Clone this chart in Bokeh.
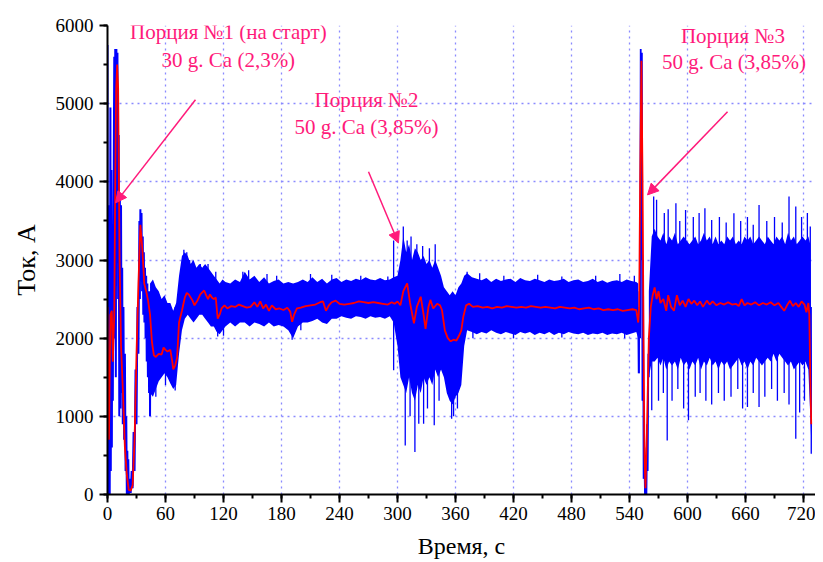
from bokeh.plotting import figure
from bokeh.models import Label, Arrow, NormalHead, FixedTicker, Range1d
from bokeh.embed import file_html
from bokeh.resources import INLINE

# ---------------- data ----------------
# early high-amplitude burst of the raw current (s, A)
burst1_t = [0, 0.3, 0.8, 1.2, 1.8, 2.3, 3, 3.4, 4, 4.5, 5, 5.5, 6, 7, 7.5, 8, 8.6, 9.2, 9.8, 10.3,
            11, 11.6, 12.2, 12.8, 13.4, 14, 14.6, 15.2, 15.8, 16.5, 17.2, 18, 18.7, 19.4, 20, 20.5,
            21, 21.5, 22, 23, 24, 25, 26, 27, 28, 29, 30, 31, 32, 33, 33.5, 34, 34.6, 35.2, 35.8,
            36.5, 37, 37.6, 38.2, 38.8, 39.4, 40, 40.6, 41.2, 41.8, 42.4, 43, 43.6, 44, 44.5]
burst1_v = [5750, 0, 3700, 100, 3600, 0, 4950, 300, 4150, 600, 3200, 1200, 3000, 5600, 2000, 5700,
            1500, 5700, 3000, 5650, 2500, 4600, 1000, 3800, 1100, 3700, 1300, 2900, 900, 2400, 700,
            1800, 300, 1000, 0, 560, 50, 450, 0, 200, 20, 300, 80, 800, 300, 1600, 900, 2400, 1800,
            3500, 2500, 3650, 2900, 3600, 2600, 3300, 2300, 3100, 2200, 2900, 2000, 2800, 1700,
            2700, 1500, 2600, 1300, 2500, 1000, 2600]

# burst of the raw current around the third portion
burst2_t = [549, 549.5, 550.3, 551, 551.6, 552.2, 552.8, 553.4, 554, 554.6, 555.3, 556, 556.8,
            557.5, 558.2, 558.8, 559.5, 560]
burst2_v = [2300, 1550, 2600, 2000, 5700, 3000, 5650, 1200, 3000, 200, 600, 0, 100, 0, 900, 300,
            1800, 1500]

# envelope of the noisy raw current (s, upper A, lower A)
band_t = [44, 47, 50, 53, 56, 59, 62, 65, 68, 71, 74, 77, 80, 83, 86, 89, 92, 95, 98, 101, 104,
          107, 110, 113, 116, 119, 122, 127, 132, 137, 142, 147, 152, 157, 162, 167, 172, 177,
          182, 187, 192, 197, 202, 207, 212, 217, 222, 227, 232, 237, 242, 247, 252, 257, 262,
          267, 272, 277, 282, 287, 292, 296, 300, 303, 306, 309, 312, 315, 318, 321, 324, 327,
          330, 333, 336, 339, 342, 345, 348, 351, 354, 357, 360, 363, 366, 369, 372, 377, 382,
          387, 392, 397, 402, 407, 412, 417, 422, 427, 432, 437, 442, 447, 452, 457, 462, 467,
          472, 477, 482, 487, 492, 497, 502, 507, 512, 517, 522, 527, 532, 537, 542, 547, 549,
          560, 563, 566, 569, 572, 575, 578, 581, 584, 587, 590, 593, 596, 599, 602, 605, 608,
          611, 614, 617, 620, 623, 626, 629, 632, 635, 638, 641, 644, 647, 650, 653, 656, 659,
          662, 665, 668, 671, 674, 677, 680, 683, 686, 689, 692, 695, 698, 701, 704, 707, 710,
          713, 716, 719, 722, 725, 727, 728.5]
band_hi = [2700, 2750, 2650, 2600, 2500, 2550, 2450, 2450, 2350, 2450, 2800, 3050, 3100, 3050,
           2950, 3000, 2900, 2950, 2900, 2950, 2900, 2850, 2800, 2750, 2700, 2750, 2720, 2700,
           2750, 2720, 2850, 2750, 2800, 2720, 2780, 2700, 2730, 2750, 2700, 2720, 2700, 2720,
           2750, 2720, 2780, 2720, 2760, 2700, 2750, 2770, 2720, 2750, 2730, 2760, 2740, 2780,
           2750, 2740, 2770, 2740, 2750, 2780, 2800, 3000, 3300, 3100, 3200, 3000, 3150, 3100,
           3000, 3050, 2950, 3000, 2900, 3000, 2900, 2800, 2650, 2600, 2550, 2600, 2550, 2650,
           2700, 2800, 2830, 2780, 2760, 2740, 2770, 2720, 2760, 2730, 2750, 2760, 2720, 2770,
           2740, 2730, 2760, 2740, 2720, 2750, 2730, 2740, 2760, 2720, 2740, 2750, 2720, 2730,
           2760, 2720, 2740, 2710, 2730, 2740, 2720, 2750, 2730, 2720, 2700,
           2600, 3300, 3400, 3300, 3250, 3350, 3200, 3300, 3250, 3350, 3200, 3250, 3300, 3250,
           3200, 3250, 3300, 3200, 3250, 3350, 3250, 3300, 3200, 3300, 3200, 3250, 3200, 3300,
           3250, 3300, 3200, 3250, 3200, 3300, 3250, 3300, 3200, 3250, 3300, 3250, 3200, 3300,
           3250, 3200, 3300, 3250, 3300, 3200, 3350, 3250, 3300, 3200, 3250, 3300, 3250, 3300,
           3200, 1500]
band_lo = [1300, 1250, 1350, 1450, 1500, 1550, 1500, 1420, 1350, 1400, 1800, 2100, 2250, 2300,
           2250, 2200, 2250, 2300, 2300, 2250, 2200, 2150, 2150, 2080, 2050, 2100, 2150, 2200,
           2150, 2200, 2200, 2150, 2200, 2180, 2150, 2200, 2150, 2170, 2150, 2100, 2000, 2150,
           2200, 2200, 2220, 2250, 2200, 2180, 2250, 2250, 2280, 2260, 2250, 2280, 2270, 2250,
           2280, 2260, 2270, 2250, 2280, 2200, 1900, 1500, 1400, 1300, 1500, 1300, 1200, 1400,
           1300, 1500, 1400, 1500, 1400, 1600, 1500, 1600, 1500, 1300, 1200, 1150, 1250, 1300,
           1400, 1900, 2100, 2080, 2050, 2080, 2060, 2100, 2070, 2050, 2080, 2060, 2040, 2080,
           2060, 2080, 2040, 2070, 2050, 2080, 2040, 2070, 2050, 2080, 2060, 2050, 2070, 2040,
           2060, 2050, 2070, 2040, 2060, 2050, 2070, 2040, 2060, 2080, 2000,
           1500, 1700, 1700, 1750, 1650, 1750, 1600, 1700, 1650, 1700, 1600, 1750, 1650, 1700,
           1600, 1700, 1650, 1750, 1600, 1700, 1650, 1750, 1650, 1700, 1600, 1700, 1650, 1700,
           1600, 1650, 1700, 1750, 1650, 1700, 1600, 1700, 1650, 1750, 1700, 1650, 1700, 1750,
           1700, 1800, 1700, 1800, 1750, 1700, 1650, 1700, 1600, 1650, 1700, 1650, 1700, 1600,
           1000, 500]

# isolated spikes of the raw current (s, A)
spike_t = [79, 82, 85, 88, 96, 100, 104, 112, 140, 146, 165, 175, 210, 232, 262, 290, 296, 306,
           310, 314, 320, 326, 333, 339, 372, 385, 410, 445, 470, 505, 530, 545, 565, 568, 576,
           580, 588, 592, 598, 606, 612, 618, 625, 633, 640, 648, 655, 662, 668, 674, 682, 690,
           698, 705, 712, 718, 724, 727,
           50, 60, 70, 114, 120, 191, 200, 296, 308, 313, 318, 322, 327, 331, 338, 343, 356, 358,
           362, 378, 420, 470, 535, 550, 563, 570, 575, 579, 584, 590, 596, 601, 608, 613, 619,
           625, 632, 638, 645, 652, 657, 662, 668, 674, 680, 687, 693, 700, 705, 712, 716, 721,
           728]
spike_v = [3130, 3100, 3000, 2980, 2950, 2920, 2950, 2850, 2850, 2870, 2820, 2800, 2820, 2810,
           2800, 2790, 3250, 3430, 3250, 3300, 3200, 3180, 3150, 3200, 2850, 2830, 2800, 2810,
           2790, 2800, 2820, 2800, 3811, 3770, 3600, 3650, 3726, 3500, 3640, 3550, 3600, 3662,
           3512, 3550, 3480, 3598, 3500, 3550, 3450, 3705, 3500, 3550, 3480, 3811, 3683, 3550,
           3600, 3427,
           1250, 1400, 1330, 2020, 2030, 1980, 2100, 1590, 628, 1000, 543, 906, 906, 1100, 885,
           1200, 970, 1000, 1100, 2000, 2000, 2010, 2000, 1550, 1077, 1200, 1300, 692, 1200,
           1350, 1100, 949, 1250, 1300, 1200, 1150, 1300, 1200, 1250, 1350, 1100, 1120, 1300,
           1120, 1250, 1350, 1200, 1300, 1150, 714, 1050, 1200, 521]

# smoothed current (s, A)
smooth_t = [0, 1.5, 3, 4.5, 5.5, 7, 8, 9, 10, 11, 12.5, 14, 16, 18, 20, 22, 24, 26, 28, 30, 32,
            34, 36, 38, 40, 42, 44, 46, 48, 50, 53, 56, 58, 60, 62, 65, 67, 68, 70, 72, 74, 77,
            80, 82, 84, 86, 88, 90, 93, 96, 100, 102, 104, 106, 108, 110, 112, 114, 116, 118,
            121, 124, 128, 132, 136, 140, 144, 148, 152, 155, 158, 161, 164, 167, 170, 174, 178,
            182, 186, 189, 191, 193, 196, 200, 205, 210, 215, 220, 223, 226, 229, 232, 236, 240,
            245, 250, 255, 260, 265, 270, 275, 280, 285, 290, 294, 297, 300, 303, 306, 310, 313,
            317, 320, 324, 327, 329, 332, 334, 337, 341, 344, 346, 349, 352, 355, 358, 361, 364,
            366, 368, 371, 374, 378, 383, 388, 393, 398, 403, 408, 413, 418, 423, 428, 433, 438,
            443, 448, 453, 458, 463, 468, 473, 478, 483, 488, 493, 498, 503, 508, 513, 518, 523,
            528, 533, 538, 543, 547, 549, 550, 551, 552.3, 553.5, 554.5, 555.5, 556.5, 558, 560,
            562, 564, 566, 568, 570, 572, 575, 578, 580, 583, 586, 589, 592, 595, 598, 601, 604,
            607, 610, 613, 616, 620, 623, 626, 630, 634, 638, 642, 646, 650, 653, 656, 659, 662,
            666, 670, 674, 678, 682, 686, 690, 694, 697, 700, 703, 706, 709, 712, 715, 718, 721,
            723, 725, 726, 727, 728]
smooth_v = [2400, 700, 2300, 2350, 1700, 2300, 4000, 5200, 5500, 5200, 3000, 1900, 1300, 600,
            250, 60, 50, 120, 700, 1800, 2700, 3450, 3150, 2700, 2600, 2480, 2300, 1950, 1780,
            1760, 1800, 1790, 1880, 1850, 1830, 1850, 1700, 1600, 1650, 1750, 2200, 2350, 2520,
            2580, 2560, 2520, 2480, 2420, 2480, 2560, 2610, 2550, 2500, 2560, 2520, 2500, 2520,
            2250, 2300, 2380, 2420, 2380, 2410, 2400, 2430, 2410, 2390, 2400, 2460, 2400, 2470,
            2380, 2430, 2350, 2420, 2370, 2380, 2360, 2390, 2340, 2210, 2300, 2380, 2390, 2410,
            2420, 2430, 2460, 2470, 2350, 2420, 2460, 2480, 2440, 2430, 2440, 2450, 2470, 2460,
            2450, 2460, 2450, 2440, 2430, 2460, 2440, 2470, 2420, 2600, 2700, 2450, 2190, 2400,
            2530, 2300, 2120, 2400, 2490, 2380, 2440, 2420, 2360, 2100, 2000, 1960, 1980, 1970,
            2040, 2100, 2270, 2420, 2440, 2400, 2410, 2390, 2400, 2380, 2400, 2390, 2410, 2400,
            2390, 2400, 2390, 2410, 2400, 2390, 2400, 2390, 2380, 2400, 2390, 2380, 2390, 2370,
            2380, 2390, 2370, 2380, 2360, 2370, 2360, 2370, 2350, 2360, 2370, 2360, 2200, 2400,
            4000, 5550, 4000, 2000, 500, 80, 800, 2000, 2400, 2550, 2650, 2500, 2600, 2450, 2500,
            2350, 2550, 2400, 2350, 2550, 2420, 2480, 2400, 2500, 2440, 2480, 2420, 2470, 2400,
            2480, 2430, 2470, 2420, 2450, 2430, 2460, 2430, 2440, 2410, 2500, 2420, 2450, 2430,
            2460, 2420, 2450, 2430, 2460, 2420, 2450, 2400, 2350, 2420, 2480, 2410, 2450, 2400,
            2470, 2430, 2330, 2450, 2300, 1500, 900]

x_ticks = list(range(0, 721, 60))
y_ticks = list(range(0, 6001, 1000))

# ---------------- styling ----------------
BLUE = "#0000ff"
RED = "#ff0000"
PINK = "#ff1a7a"
FONT = "'Liberation Serif', 'Times New Roman', serif"
SPIKE_BASE = 2400
X_END = 732.4

p = figure(width=815, height=562, output_backend="svg", toolbar_location=None,
           x_range=Range1d(0, X_END), y_range=Range1d(0, 6000),
           min_border_left=107, min_border_right=0, min_border_top=25, min_border_bottom=68,
           x_axis_label="Время, с", y_axis_label="Ток, А")
p.outline_line_color = None
p.background_fill_color = "white"

# raw current
cut = band_t.index(560)
p.varea(x=band_t[:cut], y1=band_lo[:cut], y2=band_hi[:cut], fill_color=BLUE)
p.varea(x=band_t[cut:], y1=band_lo[cut:], y2=band_hi[cut:], fill_color=BLUE)
p.segment(x0=spike_t, y0=[SPIKE_BASE] * len(spike_t), x1=spike_t, y1=spike_v,
          line_color=BLUE, line_width=1.3)
p.line(burst1_t, burst1_v, line_color=BLUE, line_width=2)
p.line(burst2_t, burst2_v, line_color=BLUE, line_width=1.8)

# smoothed current
p.line(smooth_t, smooth_v, line_color=RED, line_width=1.8)

# axes and grid
for ax in (p.xaxis[0], p.yaxis[0]):
    ax.axis_line_width = 2
    ax.axis_line_color = "black"
    ax.major_tick_line_width = 2
    ax.minor_tick_line_width = 2
    ax.major_tick_in = 0
    ax.minor_tick_in = 0
    ax.major_tick_out = 8
    ax.minor_tick_out = 4
    ax.major_label_text_font = FONT
    ax.major_label_text_font_size = "19px"
    ax.major_label_text_color = "black"
    ax.axis_label_text_font = FONT
    ax.axis_label_text_font_style = "normal"
    ax.axis_label_text_color = "black"

p.xaxis.ticker = FixedTicker(ticks=x_ticks, minor_ticks=list(range(0, 741, 30)))
p.yaxis.ticker = FixedTicker(ticks=y_ticks, minor_ticks=list(range(0, 6001, 500)))
p.xaxis.major_label_standoff = 4
p.yaxis.major_label_standoff = 6
p.xaxis.axis_label_standoff = 10
p.yaxis.axis_label_standoff = 12
p.xaxis.axis_label_text_font_size = "24px"
p.yaxis.axis_label_text_font_size = "26px"

p.xgrid.ticker = FixedTicker(ticks=x_ticks[1:])
p.ygrid.ticker = FixedTicker(ticks=y_ticks[1:-1])
for g in (p.xgrid[0], p.ygrid[0]):
    g.grid_line_color = "#8a8aff"
    g.grid_line_dash = "2 4"
    g.grid_line_width = 1.3

# annotations
notes = [
    (125, 5923, "Порция №1 (на старт)"),
    (125, 5564, "30 g. Ca (2,3%)"),
    (268, 5051, "Порция №2"),
    (268, 4705, "50 g. Ca (3,85%)"),
    (647, 5872, "Порция №3"),
    (648, 5538, "50 g. Ca (3,85%)"),
]
for x, y, t in notes:
    p.add_layout(Label(x=x, y=y, text=t, text_align="center", text_baseline="middle",
                       text_font=FONT, text_font_size="21px", text_color=PINK))

arrows = [(91, 5051, 8.3, 3731), (270, 4128, 301, 3218), (641.4, 4897, 558.6, 3833)]
for xs, ys, xe, ye in arrows:
    p.add_layout(Arrow(end=NormalHead(size=11, fill_color=PINK, line_color=PINK),
                       x_start=xs, y_start=ys, x_end=xe, y_end=ye,
                       line_color=PINK, line_width=1.5))

open("out.html", "w").write(file_html(p, INLINE))
